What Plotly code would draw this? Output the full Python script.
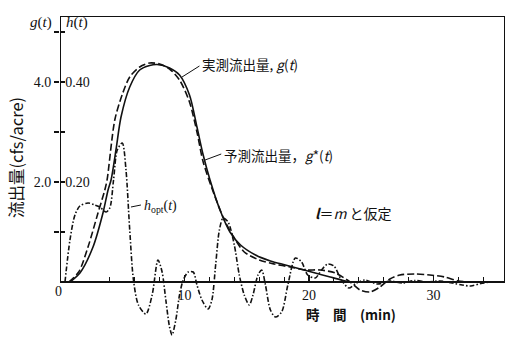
import plotly.graph_objects as go

# observed outflow g(t)  [cfs/acre]
t_obs = [0.8, 1.6, 2.65, 3.45, 3.86, 4.1, 4.5, 4.9, 5.6, 6.4, 7.2, 7.8, 8.8, 9.6,
         10.4, 11.0, 11.5, 12.05, 12.85, 13.65, 14.5, 15.7, 16.9, 18.1, 19.3,
         20.5, 21.7, 22.6, 23.3, 24.5]
g_obs = [0.0, 0.18, 0.7, 1.38, 1.84, 2.04, 2.65, 3.3, 3.9, 4.24, 4.33, 4.35, 4.28, 4.14,
         3.74, 3.1, 2.54, 2.04, 1.44, 1.0, 0.74, 0.54, 0.42, 0.34, 0.26,
         0.18, 0.1, 0.04, 0.0, 0.0]

# predicted outflow g*(t)
t_pred = [0.7, 1.5, 2.25, 3.05, 3.6, 3.78, 4.4, 5.0, 5.6, 6.4, 7.2, 8.0, 8.8, 9.6,
          10.4, 11.0, 11.5, 12.4, 13.2, 14.0, 14.8, 16.0, 17.2, 18.5, 19.7, 20.9,
          22.1, 23.3, 24.1, 24.9, 25.7, 26.5, 27.3, 28.5, 29.7, 30.9, 32.0, 33.0]
g_pred = [0.0, 0.2, 0.7, 1.38, 1.84, 2.04, 3.24, 3.75, 4.1, 4.3, 4.38, 4.36, 4.26, 4.04,
          3.6, 3.0, 2.4, 1.74, 1.24, 0.88, 0.6, 0.44, 0.36, 0.3, 0.24, 0.24,
          0.18, 0.0, -0.16, -0.2, -0.1, 0.06, 0.14, 0.16, 0.14, 0.1, 0.02, 0.0]

# optimal unit hydrograph h_opt(t)
t_h = [0.4, 0.8, 1.2, 1.6, 2.25, 2.8, 3.2, 3.7, 4.0, 4.3, 4.6, 5.0, 5.3, 5.6, 5.9,
       6.3, 6.9, 7.4, 7.87, 8.2, 8.5, 8.8, 9.0, 9.3, 9.6, 9.9, 10.3, 10.7, 11.0,
       11.4, 11.9, 12.2, 12.5, 12.8, 13.1, 13.5, 14.0, 14.4, 14.8, 15.2, 15.5,
       15.9, 16.2, 16.5, 16.9, 17.3, 17.8, 18.3, 18.9, 19.4, 19.9, 20.5, 21.0,
       21.5, 22.0, 22.6, 23.2, 23.8, 24.5, 25.5, 26.5, 27.5, 28.5, 29.5, 30.5,
       31.5, 32.3, 33.0, 33.8, 34.6, 35.4]
h_opt = [0.0, 0.084, 0.134, 0.152, 0.158, 0.154, 0.15, 0.14, 0.148, 0.204, 0.264,
         0.278, 0.224, 0.104, 0.004, -0.046, -0.064, -0.026, 0.044, 0.02, -0.036,
         -0.09, -0.106, -0.076, -0.026, 0.004, 0.02, 0.02, -0.006, -0.036, -0.054,
         -0.036, 0.034, 0.104, 0.128, 0.12, 0.074, 0.014, -0.026, -0.046, -0.026,
         0.014, 0.024, -0.006, -0.056, -0.07, -0.06, -0.006, 0.048, 0.04, 0.014,
         0.008, 0.024, 0.036, 0.032, 0.004, -0.012, -0.002, 0.004, -0.004, 0.002,
         -0.002, 0.003, 0.0, 0.002, -0.002, -0.006, -0.008, -0.003, 0.0, 0.0]

g_ticks = [2, 4]
g_ticktext = ["2.0", "4.0"]
g_minor = [1, 3, 5]
h_ticks = [0.2, 0.4]
h_ticktext = ["0.20", "0.40"]
h_minor = [0.1, 0.3, 0.5]
x_ticks = [10, 20, 30]

INK = "#111111"
SERIF = "Liberation Serif"
CJK = "Noto Sans CJK JP"
X_MIN = 0.0
X_MAX = 35.74
G_TOP = 5.32
G_BOT = -1.1

fig = go.Figure()
fig.add_trace(go.Scatter(x=t_obs, y=g_obs, mode="lines", line=dict(color=INK, width=1.6, shape="spline", smoothing=0.8),
                         name="g(t)", showlegend=False))
fig.add_trace(go.Scatter(x=t_pred, y=g_pred, mode="lines",
                         line=dict(color=INK, width=1.6, dash="7px,3px", shape="spline", smoothing=0.8),
                         name="g*(t)", showlegend=False))
fig.add_trace(go.Scatter(x=t_h, y=h_opt, mode="lines", yaxis="y2",
                         line=dict(color=INK, width=1.6, dash="5px,2px,1.5px,2px", shape="spline", smoothing=0.8),
                         name="h_opt(t)", showlegend=False))

pos0 = -G_BOT / (G_TOP - G_BOT)
PW = 445.0
PH = 321.0

fig.update_layout(
    width=513, height=337,
    margin=dict(l=60, r=8, t=16, b=0),
    paper_bgcolor="white", plot_bgcolor="white",
    hovermode=False,
    xaxis=dict(range=[X_MIN, X_MAX], anchor="free", position=pos0, showgrid=False, zeroline=False,
               automargin=False,
               showline=True, linecolor=INK, linewidth=2,
               tickvals=x_ticks, ticks="inside", ticklen=6, tickcolor=INK, tickwidth=1.5,
               minor=dict(dtick=2, tick0=0, ticks="inside", ticklen=4, tickcolor=INK, tickwidth=1),
               tickfont=dict(family=SERIF, size=14, color=INK)),
    yaxis=dict(range=[G_BOT, G_TOP], showgrid=False, zeroline=False, showline=False, automargin=False,
               tickvals=g_ticks, ticktext=g_ticktext, ticks="outside", ticklen=5,
               minor=dict(tickmode="array", tickvals=g_minor, ticks="outside", ticklen=5,
                          tickcolor=INK, tickwidth=1.5),
               tickcolor=INK, tickwidth=1.5, tickfont=dict(family=SERIF, size=14, color=INK)),
    yaxis2=dict(range=[G_BOT / 10, G_TOP / 10], overlaying="y", side="left", anchor="x",
                showgrid=False, zeroline=False, showline=False, automargin=False,
                tickvals=h_ticks, ticktext=h_ticktext, ticks="inside", ticklen=5,
                minor=dict(tickmode="array", tickvals=h_minor, ticks="inside", ticklen=5,
                           tickcolor=INK, tickwidth=1.5),
                ticklabelposition="inside", tickcolor=INK, tickwidth=1.5,
                tickfont=dict(family=SERIF, size=14, color=INK)),
)

# frame
fig.add_shape(type="rect", xref="x", yref="y", x0=0, x1=X_MAX, y0=0, y1=G_TOP,
              line=dict(color=INK, width=2))

# leader lines
fig.add_shape(type="line", xref="x", yref="y", x0=9.8, y0=4.1, x1=11.2, y1=4.32, line=dict(color=INK, width=1))
fig.add_shape(type="line", xref="x", yref="y", x0=11.65, y0=2.44, x1=12.95, y1=2.56, line=dict(color=INK, width=1))
fig.add_shape(type="line", xref="x", yref="y", x0=5.7, y0=1.5, x1=6.5, y1=1.54, line=dict(color=INK, width=1))

def ann(text, x, y, size=14, family=CJK, xanchor="left", **kw):
    fig.add_annotation(text=text, x=x, y=y, xref="x", yref="y", showarrow=False,
                       xanchor=xanchor, yanchor="middle",
                       font=dict(family=family, size=size, color=INK), **kw)

def pann(text, px, py, size=14, family=SERIF, xanchor="left", **kw):
    fig.add_annotation(text=text, x=(px - 60) / PW, y=(337 - py) / PH, xref="paper", yref="paper",
                       showarrow=False, xanchor=xanchor, yanchor="middle",
                       font=dict(family=family, size=size, color=INK), **kw)

ann("実測流出量, <i>g</i>(<i>t</i>)", 11.25, 4.36, size=13.5)
ann("予測流出量，<i>g</i>*(<i>t</i>)", 13.0, 2.54, size=13.5)
ann("<b><i>l</i></b>＝<i>m</i> と仮定", 20.3, 1.38, size=14)
ann("<i>h</i><sub>opt</sub>(<i>t</i>)", 6.6, 1.52, family=SERIF, size=14)
ann("<b>時　間　(min)</b>", 23.4, -0.64, family=CJK, size=13.5, xanchor="center")

pann("<i>g</i>(<i>t</i>)", 54, 22, size=15, xanchor="right")
pann("<i>h</i>(<i>t</i>)", 64, 22, size=15)
pann("0", 58, 291, size=14, xanchor="center")

fig.add_annotation(text="流出量(cfs/acre)", xref="paper", yref="paper",
                   x=(16 - 60) / PW, y=(337 - 158) / PH, showarrow=False, textangle=-90,
                   xanchor="center", yanchor="middle", font=dict(family=CJK, size=16.5, color=INK))

fig.write_html("out.html", config={"displayModeBar": False, "staticPlot": True},
               post_script="document.body.style.margin='0';document.body.style.overflow='hidden';")
